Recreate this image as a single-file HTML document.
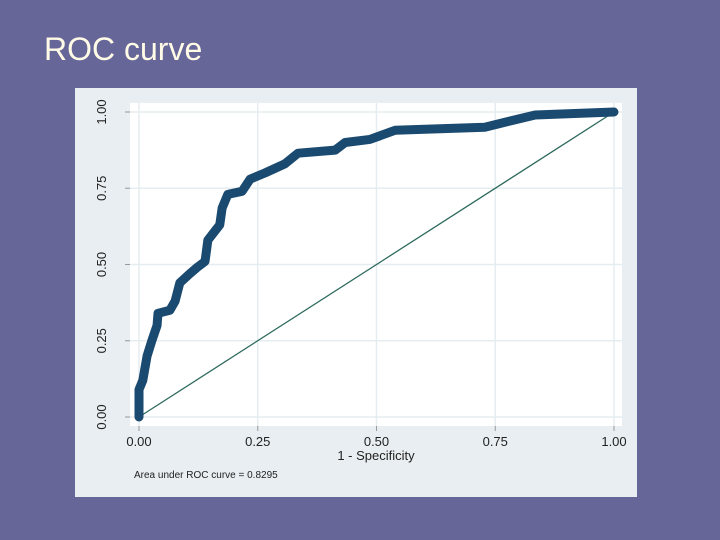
<!DOCTYPE html>
<html><head><meta charset="utf-8"><style>
body{margin:0;width:720px;height:540px;background:#666699;overflow:hidden;font-family:"Liberation Sans",sans-serif}
#title{position:absolute;left:44px;top:31px;font-size:32px;color:#fffbe6}
svg{position:absolute;left:0;top:0}
</style></head><body>
<div id="title">ROC curve</div>
<svg id="chart" width="720" height="540">
<rect x="75" y="88" width="562" height="409" fill="#e8eef2"/>
<rect x="130" y="103" width="492" height="323" fill="#ffffff"/>
<g id="grid"></g><g id="axes"></g><g id="marks"></g>
<text x="376" y="460" font-size="13" fill="#222" text-anchor="middle">1 - Specificity</text>
<text x="134" y="478" font-size="10" fill="#222">Area under ROC curve = 0.8295</text>
</svg>
<script>
const xTicks=[0,0.25,0.5,0.75,1];
const xTickLabels=["0.00","0.25","0.50","0.75","1.00"];
const yTicks=[0,0.25,0.5,0.75,1];
const yTickLabels=["0.00","0.25","0.50","0.75","1.00"];
const fpr=[0,0,0.008,0.017,0.027,0.038,0.04,0.065,0.076,0.086,0.107,0.122,0.139,0.145,0.16,0.17,0.175,0.187,0.217,0.234,0.265,0.307,0.335,0.413,0.434,0.486,0.539,0.728,0.78,0.834,1];
const tpr=[0,0.09,0.12,0.2,0.25,0.30,0.34,0.35,0.38,0.44,0.47,0.49,0.51,0.58,0.61,0.63,0.685,0.73,0.74,0.78,0.80,0.83,0.865,0.875,0.90,0.91,0.94,0.95,0.97,0.99,1];
const NS="http://www.w3.org/2000/svg";
const X=v=>139+v*475, Y=v=>417-v*305;
function mk(tag,attrs,parent){const e=document.createElementNS(NS,tag);for(const k in attrs)e.setAttribute(k,attrs[k]);document.getElementById(parent).appendChild(e);return e;}
xTicks.forEach((t,i)=>{
 const g=mk('line',{x1:X(t),x2:X(t),y1:103,y2:426,stroke:'#e6edf0','stroke-width':1.5},'grid');
 
 
 const tk=mk('line',{x1:X(t),x2:X(t),y1:426,y2:431,stroke:'#999'},'axes');
 
 
 const l=mk('text',{x:X(t),y:446,'font-size':13,fill:'#222','text-anchor':'middle'},'axes');l.textContent=xTickLabels[i];
 
 
});
yTicks.forEach((t,i)=>{
 const g=mk('line',{x1:130,x2:622,y1:Y(t),y2:Y(t),stroke:'#e6edf0','stroke-width':1.5},'grid');
 
 
 const tk=mk('line',{x1:125,x2:130,y1:Y(t),y2:Y(t),stroke:'#999'},'axes');
 
 
 const l=mk('text',{x:0,y:0,'font-size':13,fill:'#222','text-anchor':'middle',transform:`translate(106,${Y(t)}) rotate(-90)`},'axes');l.textContent=yTickLabels[i];
 
 
});
const d=mk('line',{x1:X(0),y1:Y(0),x2:X(1),y2:Y(1),stroke:'#2f6b5e','stroke-width':1.3},'marks');


const p=mk('polyline',{points:fpr.map((v,i)=>X(v)+','+Y(tpr[i])).join(' '),fill:'none',stroke:'#1b4a70','stroke-width':9,'stroke-linejoin':'round','stroke-linecap':'round'},'marks');


</script>
</body></html>
